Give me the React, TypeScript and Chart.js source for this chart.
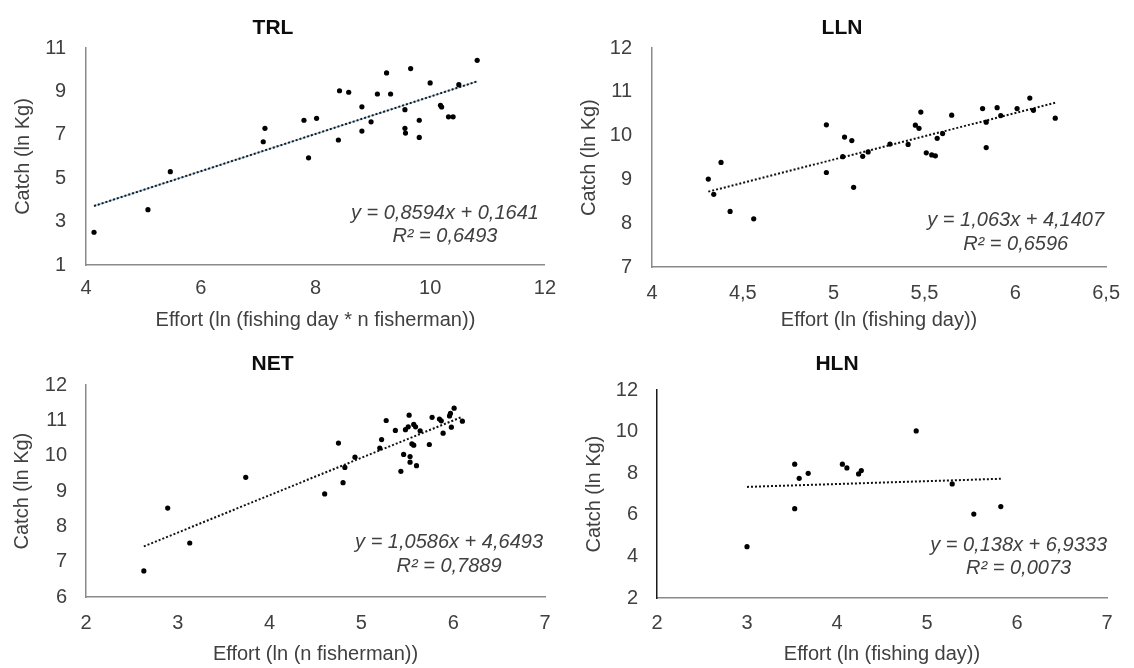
import React, { useEffect, useRef } from 'react';
import { Chart, registerables } from 'chart.js';

Chart.register(...registerables);

const FONT = '"Liberation Sans", Arial, Helvetica, sans-serif';

// ---------- TRL ----------
const trlEffort = [4.14, 5.08, 5.47, 7.09, 7.12, 7.80, 7.88, 8.02, 8.40, 8.42, 8.58, 8.81, 8.81, 8.97, 9.08, 9.24, 9.31, 9.56, 9.56, 9.57, 9.66, 9.81, 9.81, 10.00, 10.18, 10.20, 10.32, 10.40, 10.50, 10.82];
const trlCatch = [2.51, 3.55, 5.30, 6.68, 7.30, 7.67, 5.94, 7.76, 6.76, 9.03, 8.96, 8.29, 7.17, 7.60, 8.88, 9.85, 8.88, 8.16, 7.30, 7.08, 10.05, 7.67, 6.88, 9.39, 8.36, 8.28, 7.83, 7.83, 9.31, 10.43];
const trlTrendX = [4.14, 10.82];
const trlSlope = 0.8594;
const trlIntercept = 0.1641;
const trlXTicks = [4, 6, 8, 10, 12];
const trlYTicks = [1, 3, 5, 7, 9, 11];

// ---------- LLN ----------
const llnEffort = [4.31, 4.34, 4.38, 4.43, 4.56, 4.96, 4.96, 5.05, 5.06, 5.10, 5.11, 5.16, 5.19, 5.31, 5.41, 5.45, 5.47, 5.48, 5.51, 5.54, 5.56, 5.57, 5.60, 5.65, 5.82, 5.84, 5.84, 5.90, 5.92, 6.01, 6.08, 6.10, 6.22];
const llnCatch = [9.01, 8.66, 9.39, 8.27, 8.10, 10.25, 9.16, 9.52, 9.97, 9.89, 8.82, 9.53, 9.63, 9.81, 9.80, 10.24, 10.17, 10.54, 9.61, 9.56, 9.54, 9.94, 10.05, 10.47, 10.62, 9.73, 10.31, 10.64, 10.46, 10.62, 10.86, 10.58, 10.40];
const llnTrendX = [4.31, 6.22];
const llnSlope = 1.063;
const llnIntercept = 4.1407;
const llnXTicks = [4, 4.5, 5, 5.5, 6, 6.5];
const llnYTicks = [7, 8, 9, 10, 11, 12];

// ---------- NET ----------
const netEffort = [2.63, 2.89, 3.13, 3.74, 4.60, 4.75, 4.80, 4.82, 4.93, 5.20, 5.22, 5.27, 5.37, 5.43, 5.46, 5.48, 5.51, 5.52, 5.53, 5.53, 5.55, 5.57, 5.57, 5.59, 5.60, 5.64, 5.74, 5.77, 5.85, 5.87, 5.89, 5.96, 5.97, 5.98, 6.01, 6.10];
const netCatch = [6.74, 8.52, 7.53, 9.39, 8.92, 10.36, 9.24, 9.67, 9.96, 10.22, 10.46, 11.00, 10.72, 9.56, 10.04, 10.74, 10.82, 11.15, 9.98, 9.82, 10.34, 10.30, 10.89, 10.82, 9.72, 10.71, 10.32, 11.09, 11.04, 10.99, 10.64, 11.13, 11.20, 10.81, 11.35, 10.98];
const netTrendX = [2.63, 6.10];
const netSlope = 1.0586;
const netIntercept = 4.6493;
const netXTicks = [2, 3, 4, 5, 6, 7];
const netYTicks = [6, 7, 8, 9, 10, 11, 12];

// ---------- HLN ----------
const hlnEffort = [3.00, 3.53, 3.53, 3.58, 3.68, 4.06, 4.11, 4.24, 4.27, 4.88, 5.28, 5.52, 5.82];
const hlnCatch = [4.47, 8.44, 6.30, 7.76, 8.00, 8.44, 8.26, 7.97, 8.13, 10.04, 7.49, 6.04, 6.40];
const hlnTrendX = [3.00, 5.82];
const hlnSlope = 0.138;
const hlnIntercept = 6.9333;
const hlnXTicks = [2, 3, 4, 5, 6, 7];
const hlnYTicks = [2, 4, 6, 8, 10, 12];

const titles = ['TRL', 'LLN', 'NET', 'HLN'];
const xTitles = [
  'Effort (ln (fishing day * n fisherman))',
  'Effort (ln (fishing day))',
  'Effort (ln (n fisherman))',
  'Effort (ln (fishing day))',
];
const yTitle = 'Catch (ln Kg)';
const eqLines = [
  ['y = 0,8594x + 0,1641', 'R² = 0,6493'],
  ['y = 1,063x + 4,1407', 'R² = 0,6596'],
  ['y = 1,0586x + 4,6493', 'R² = 0,7889'],
  ['y = 0,138x + 6,9333', 'R² = 0,0073'],
];

const W = 567;
const H = 334;

type Layout = {
  left: number; top: number;
  plotLeft: number; padRight: number; xAxisH: number;
  titleTop: number; titleBottom: number;
  yTitlePad: number; xTickPad: number; yTickPad: number;
  eq1: number; eq2: number; eqRight: number;
  yBorder: string; trendColor: string; trendUnder?: string;
};

type PanelDef = {
  idx: number;
  xs: number[]; ys: number[];
  trendX: number[]; slope: number; intercept: number;
  xTicks: number[]; yTicks: number[];
  layout: Layout;
};

const panels: PanelDef[] = [
  {
    idx: 0, xs: trlEffort, ys: trlCatch, trendX: trlTrendX, slope: trlSlope, intercept: trlIntercept,
    xTicks: trlXTicks, yTicks: trlYTicks,
    layout: { left: 0, top: 0, plotLeft: 86, padRight: 21, xAxisH: 69, titleTop: 16, titleBottom: 6.8, yTitlePad: 11, xTickPad: 11, yTickPad: 20, eq1: -52, eq2: -29, eqRight: 6, yBorder: '#8a8a8a', trendColor: '#1b1b1b', trendUnder: '#9cc8e8' },
  },
  {
    idx: 1, xs: llnEffort, ys: llnCatch, trendX: llnTrendX, slope: llnSlope, intercept: llnIntercept,
    xTicks: llnXTicks, yTicks: llnYTicks,
    layout: { left: 567, top: 0, plotLeft: 85, padRight: 17, xAxisH: 67, titleTop: 16, titleBottom: 7, yTitlePad: 10, xTickPad: 14, yTickPad: 20, eq1: -47, eq2: -23, eqRight: 2, yBorder: '#8a8a8a', trendColor: '#111111' },
  },
  {
    idx: 2, xs: netEffort, ys: netCatch, trendX: netTrendX, slope: netSlope, intercept: netIntercept,
    xTicks: netXTicks, yTicks: netYTicks,
    layout: { left: 0, top: 334, plotLeft: 86, padRight: 22, xAxisH: 71, titleTop: 18, titleBottom: 8, yTitlePad: 10, xTickPad: 14, yTickPad: 19, eq1: -55, eq2: -31, eqRight: 2, yBorder: '#8a8a8a', trendColor: '#111111' },
  },
  {
    idx: 3, xs: hlnEffort, ys: hlnCatch, trendX: hlnTrendX, slope: hlnSlope, intercept: hlnIntercept,
    xTicks: hlnXTicks, yTicks: hlnYTicks,
    layout: { left: 567, top: 334, plotLeft: 90, padRight: 27, xAxisH: 70, titleTop: 18, titleBottom: 13, yTitlePad: 15, xTickPad: 13, yTickPad: 19, eq1: -53, eq2: -30, eqRight: 0, yBorder: '#1a1a1a', trendColor: '#111111' },
  },
];

const fmt = (v: number) => String(v).replace('.', ',');

function PanelChart({ p }: { p: PanelDef }) {
  const ref = useRef<HTMLCanvasElement>(null);
  useEffect(() => {
    const L = p.layout;
    const points = p.xs.map((x, i) => ({ x, y: p.ys[i] }));
    const trend = p.trendX.map((x) => ({ x, y: p.slope * x + p.intercept }));
    const datasets: any[] = [
      {
        type: 'scatter',
        data: points,
        pointRadius: 2.6,
        pointBackgroundColor: '#000',
        pointBorderColor: '#000',
        pointBorderWidth: 0,
      },
      {
        type: 'line',
        data: trend,
        borderColor: L.trendColor,
        borderWidth: 2,
        borderDash: [2, 2],
        pointRadius: 0,
        fill: false,
      },
    ];
    if (L.trendUnder) {
      datasets.push({
        type: 'line',
        data: trend,
        borderColor: L.trendUnder,
        borderWidth: 1.5,
        pointRadius: 0,
        fill: false,
      });
    }
    const eqPlugin = {
      id: 'eqText',
      afterDatasetsDraw(chart: any) {
        const { ctx, chartArea } = chart;
        const lines = eqLines[p.idx];
        ctx.save();
        ctx.font = 'italic 20px ' + FONT;
        ctx.fillStyle = '#404040';
        ctx.textBaseline = 'middle';
        const w1 = ctx.measureText(lines[0]).width;
        const right = chartArea.right - L.eqRight;
        const cx = right - w1 / 2;
        ctx.textAlign = 'center';
        ctx.fillText(lines[0], cx, chartArea.bottom + L.eq1);
        ctx.fillText(lines[1], cx, chartArea.bottom + L.eq2);
        ctx.restore();
      },
    };
    const chart = new Chart(ref.current as HTMLCanvasElement, {
      type: 'scatter',
      data: { datasets },
      options: {
        responsive: false,
        animation: false,
        layout: { padding: { left: 0, right: L.padRight, top: 0, bottom: 0 } },
        plugins: {
          legend: { display: false },
          tooltip: { enabled: false },
          title: {
            display: true,
            text: titles[p.idx],
            color: '#0d0d0d',
            font: { family: FONT, size: 21, weight: 'bold', lineHeight: 1.2 },
            padding: { top: L.titleTop, bottom: L.titleBottom },
          },
        },
        scales: {
          x: {
            type: 'linear',
            min: p.xTicks[0],
            max: p.xTicks[p.xTicks.length - 1],
            grid: { display: false, drawTicks: false },
            border: { display: true, color: '#8a8a8a', width: 1.5 },
            afterBuildTicks: (s: any) => { s.ticks = p.xTicks.map((v) => ({ value: v })); },
            afterFit: (s: any) => { s.height = L.xAxisH; },
            ticks: {
              padding: L.xTickPad,
              color: '#404040',
              font: { family: FONT, size: 20, lineHeight: 1.2 },
              callback: (v: any) => fmt(Number(v)),
              maxRotation: 0,
              autoSkip: false,
            },
            title: {
              display: true,
              text: xTitles[p.idx],
              color: '#404040',
              font: { family: FONT, size: 20, lineHeight: 1.2 },
              padding: { top: 0, bottom: 2 },
            },
          },
          y: {
            type: 'linear',
            min: p.yTicks[0],
            max: p.yTicks[p.yTicks.length - 1],
            grid: { display: false, drawTicks: false },
            border: { display: true, color: L.yBorder, width: 1.5 },
            afterBuildTicks: (s: any) => { s.ticks = p.yTicks.map((v) => ({ value: v })); },
            afterFit: (s: any) => { s.width = L.plotLeft; },
            ticks: {
              padding: L.yTickPad,
              color: '#404040',
              font: { family: FONT, size: 20, lineHeight: 1.2 },
              callback: (v: any) => fmt(Number(v)),
              autoSkip: false,
            },
            title: {
              display: true,
              text: yTitle,
              color: '#404040',
              font: { family: FONT, size: 20, lineHeight: 1.2 },
              padding: { top: L.yTitlePad, bottom: 0 },
            },
          },
        },
      } as any,
      plugins: [eqPlugin],
    });
    return () => chart.destroy();
  }, [p]);
  return (
    <canvas
      ref={ref}
      width={W}
      height={H}
      style={{ position: 'absolute', left: p.layout.left, top: p.layout.top, width: W, height: H }}
    />
  );
}

export default function App() {
  return (
    <div style={{ position: 'absolute', left: 0, top: 0, width: 1134, height: 668, background: '#fff', overflow: 'hidden' }}>
      {panels.map((p) => (
        <PanelChart key={p.idx} p={p} />
      ))}
    </div>
  );
}
